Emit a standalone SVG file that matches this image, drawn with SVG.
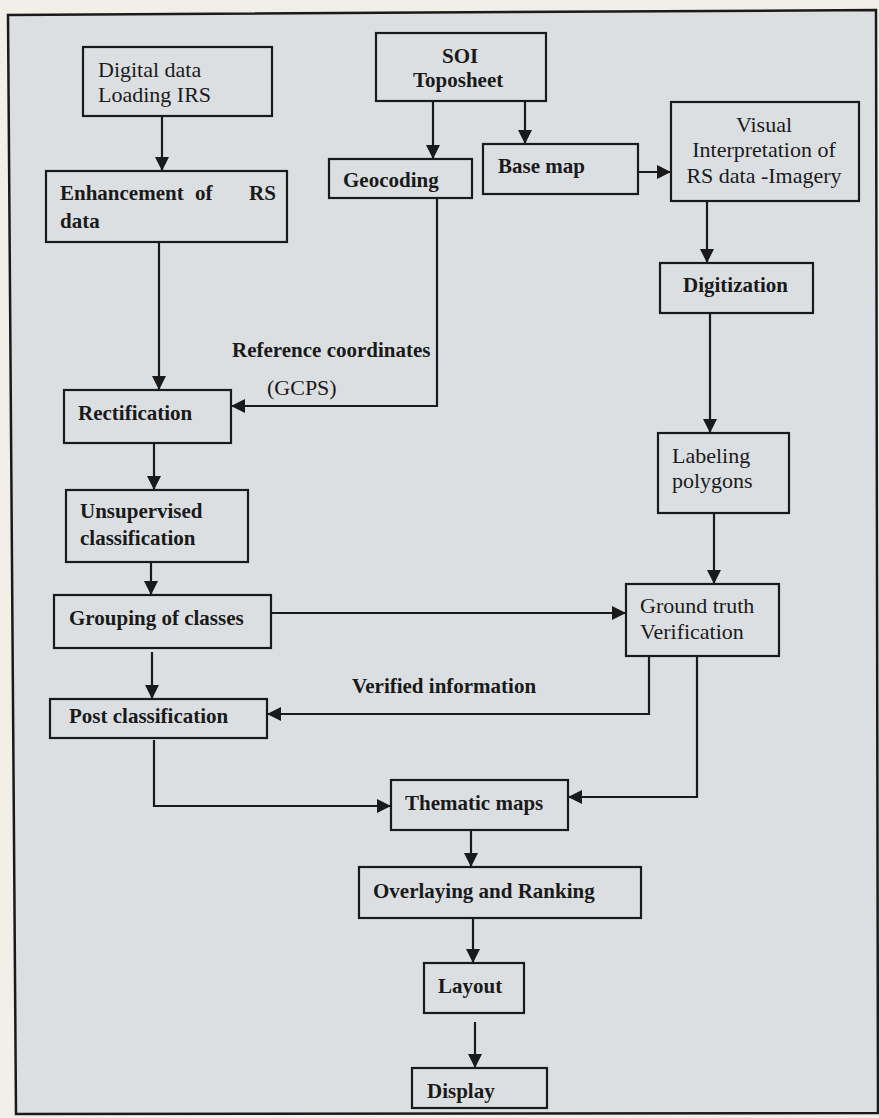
<svg xmlns="http://www.w3.org/2000/svg" width="879" height="1118" viewBox="0 0 879 1118">
<defs>
<style>
.box{fill:none;stroke:#1a1a1a;stroke-width:2.2}
.ln{fill:none;stroke:#1a1a1a;stroke-width:2.2;marker-end:url(#ah)}
.t{font-family:"Liberation Serif","Times New Roman",serif;font-size:22px;fill:#1a1a1a}
.b{font-weight:bold;font-size:21px}
</style>
<marker id="ah" markerUnits="userSpaceOnUse" markerWidth="14" markerHeight="14" refX="14" refY="7" orient="auto">
<path d="M0,0 L14,7 L0,14 z" fill="#1a1a1a"/>
</marker>
</defs>
<rect x="0" y="0" width="879" height="1118" fill="#f2efe9"/>
<polygon points="8,15 876,10 878,1113 16,1114" fill="#dcdfe2" stroke="#1a1a1a" stroke-width="2.5"/>

<g id="connectors">
<path class="ln" d="M162,116 V171"/>
<path class="ln" d="M433,101 V159"/>
<path class="ln" d="M525,101 V144"/>
<path class="ln" d="M638,172 H671"/>
<path class="ln" d="M707,201 V263"/>
<path class="ln" d="M710,313 V433"/>
<path class="ln" d="M714,513 V584"/>
<path class="ln" d="M159,242 V390"/>
<path class="ln" d="M437,198 V406 H231"/>
<path class="ln" d="M154,443 V490"/>
<path class="ln" d="M151,562 V595"/>
<path class="ln" d="M271,613 H626"/>
<path class="ln" d="M152,652 V699"/>
<path class="ln" d="M649,656 V714 H267"/>
<path class="ln" d="M697,656 V797 H568"/>
<path class="ln" d="M154,740 V806 H391"/>
<path class="ln" d="M471,830 V867"/>
<path class="ln" d="M473,918 V963"/>
<path class="ln" d="M475,1022 V1068"/>
<text class="t b" x="232" y="357">Reference coordinates</text>
<text class="t" x="267" y="395">(GCPS)</text>
<text class="t b" x="352" y="693">Verified information</text>
</g>

<g id="n-digital">
<rect class="box" x="83" y="47" width="189" height="69"/>
<text class="t" x="98" y="77">Digital data</text>
<text class="t" x="98" y="102">Loading IRS</text>
</g>
<g id="n-enhancement">
<rect class="box" x="46" y="171" width="241" height="71"/>
<text class="t b" x="60" y="200">Enhancement</text>
<text class="t b" x="195" y="200">of</text>
<text class="t b" x="249" y="200">RS</text>
<text class="t b" x="60" y="228">data</text>
</g>
<g id="n-soi">
<rect class="box" x="376" y="33" width="170" height="68"/>
<text class="t b" x="442" y="63">SOI</text>
<text class="t b" x="413" y="87">Toposheet</text>
</g>
<g id="n-geocoding">
<rect class="box" x="329" y="159" width="143" height="39"/>
<text class="t b" x="343" y="187">Geocoding</text>
</g>
<g id="n-basemap">
<rect class="box" x="483" y="144" width="155" height="50"/>
<text class="t b" x="498" y="173">Base map</text>
</g>
<g id="n-visual">
<rect class="box" x="671" y="102" width="188" height="99"/>
<text class="t" x="764" y="132" text-anchor="middle">Visual</text>
<text class="t" x="764" y="157" text-anchor="middle">Interpretation of</text>
<text class="t" x="764" y="183" text-anchor="middle">RS data -Imagery</text>
</g>
<g id="n-digitization">
<rect class="box" x="660" y="263" width="153" height="50"/>
<text class="t b" x="683" y="292">Digitization</text>
</g>
<g id="n-labeling">
<rect class="box" x="658" y="433" width="131" height="80"/>
<text class="t" x="672" y="463">Labeling</text>
<text class="t" x="672" y="488">polygons</text>
</g>
<g id="n-rectification">
<rect class="box" x="64" y="390" width="167" height="53"/>
<text class="t b" x="78" y="420">Rectification</text>
</g>
<g id="n-unsupervised">
<rect class="box" x="66" y="490" width="182" height="72"/>
<text class="t b" x="80" y="518">Unsupervised</text>
<text class="t b" x="80" y="545">classification</text>
</g>
<g id="n-grouping">
<rect class="box" x="54" y="595" width="217" height="53"/>
<text class="t b" x="69" y="625">Grouping of classes</text>
</g>
<g id="n-groundtruth">
<rect class="box" x="626" y="584" width="153" height="72"/>
<text class="t" x="640" y="613">Ground truth</text>
<text class="t" x="640" y="639">Verification</text>
</g>
<g id="n-post">
<rect class="box" x="50" y="699" width="217" height="39"/>
<text class="t b" x="69" y="723">Post classification</text>
</g>
<g id="n-thematic">
<rect class="box" x="391" y="780" width="177" height="50"/>
<text class="t b" x="405" y="810">Thematic maps</text>
</g>
<g id="n-overlaying">
<rect class="box" x="359" y="867" width="282" height="51"/>
<text class="t b" x="373" y="898">Overlaying and Ranking</text>
</g>
<g id="n-layout">
<rect class="box" x="424" y="963" width="100" height="50"/>
<text class="t b" x="438" y="993">Layout</text>
</g>
<g id="n-display">
<rect class="box" x="412" y="1068" width="135" height="40"/>
<text class="t b" x="427" y="1098">Display</text>
</g>
</svg>
